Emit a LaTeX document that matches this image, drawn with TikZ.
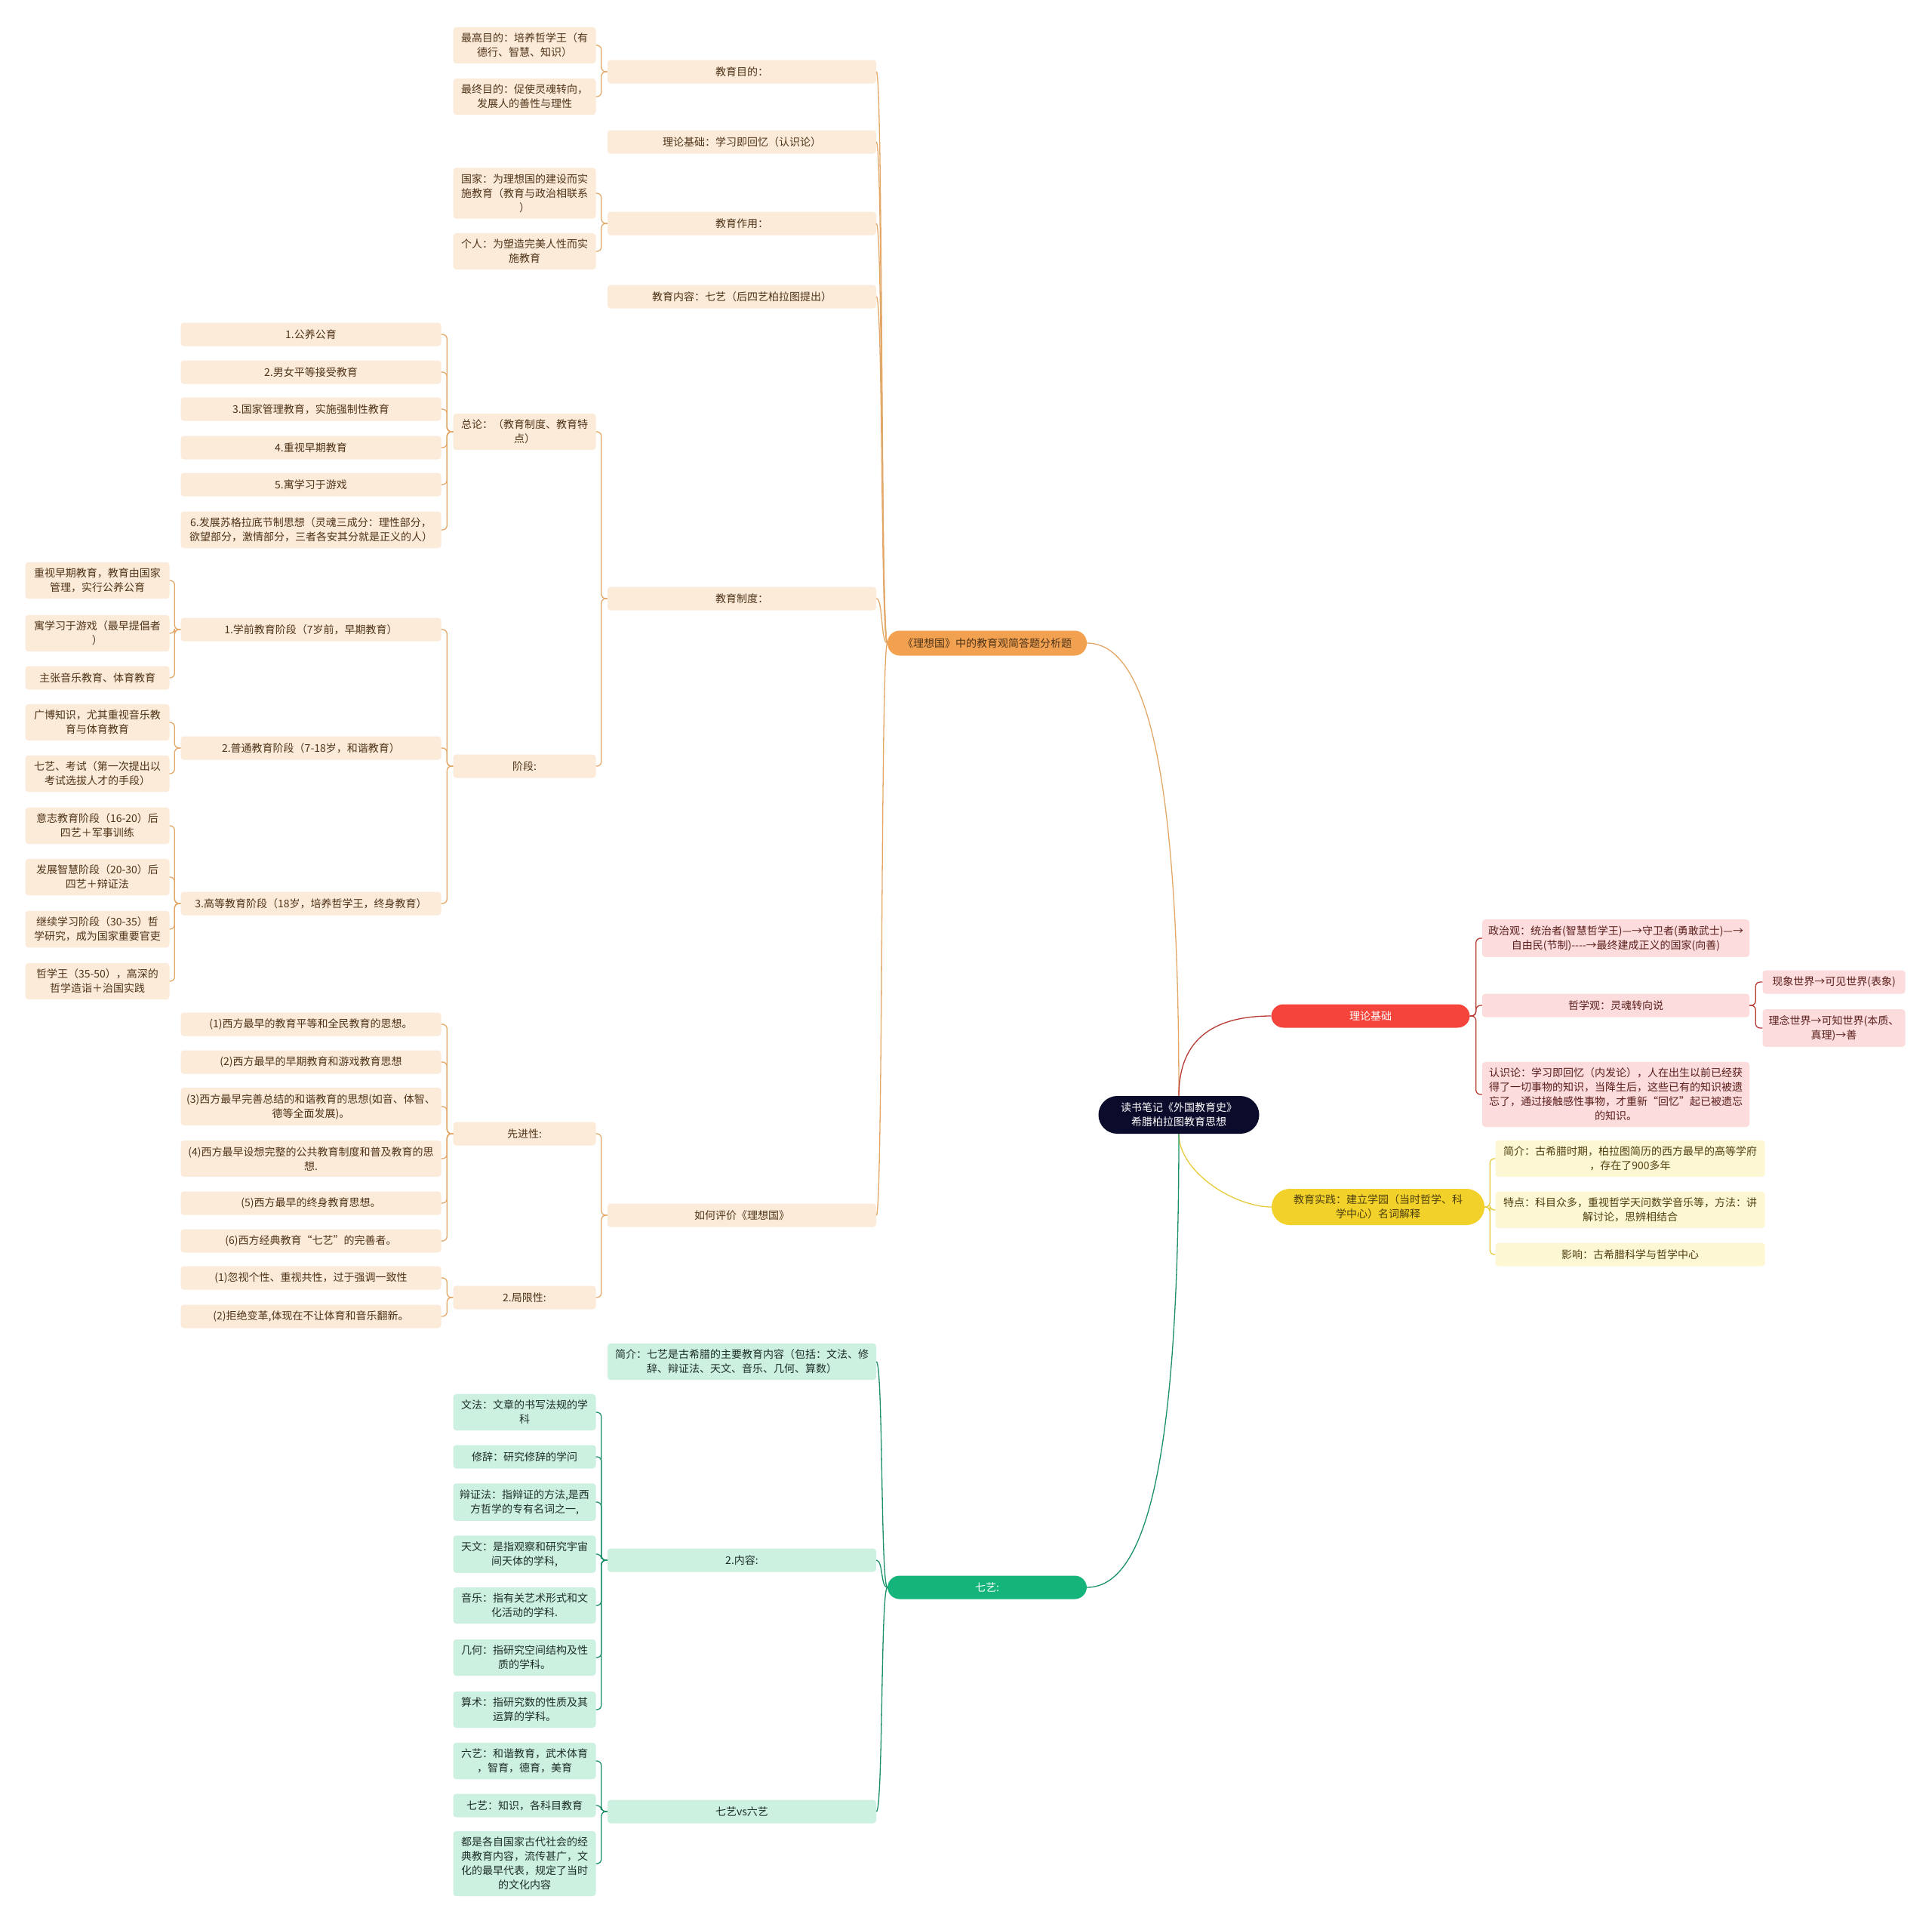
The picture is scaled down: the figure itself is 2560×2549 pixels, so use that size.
\documentclass[tikz,border=0pt]{standalone}
\usepackage{fontspec}
\setmainfont{Noto Sans CJK SC}[Ligatures=TeXOff]
\begin{document}
\begin{tikzpicture}[x=1pt,y=-1pt,
  box/.style={rectangle,rounded corners=4pt,inner xsep=0pt,inner ysep=8pt,minimum height=31pt,align=center,font=\fontsize{14}{19}\selectfont},
  branch/.style={rectangle,rounded corners=16pt,inner sep=0pt,minimum height=32pt,align=center,font=\fontsize{14}{19}\selectfont},
  ideabox/.style={box,fill=idealfill,text=idealtext},
  basisbox/.style={box,fill=basisfill,text=basistext},
  practicebox/.style={box,fill=practicefill,text=practicetext},
  artsbox/.style={box,fill=artsfill,text=artstext},
  col5/.style={text width=191pt},
  col4/.style={text width=345pt},
  col3/.style={text width=189pt},
  col2/.style={text width=356pt},
  ideallink/.style={draw=idealline,line width=1.3pt},
  basislink/.style={draw=basisline,line width=1.3pt},
  practicelink/.style={draw=practiceline,line width=1.3pt},
  artslink/.style={draw=artsline,line width=1.3pt},
  idealbracket/.style={ideallink,rounded corners=6pt},
  basisbracket/.style={basislink,rounded corners=6pt},
  practicebracket/.style={practicelink,rounded corners=6pt},
  artsbracket/.style={artslink,rounded corners=6pt}]
\definecolor{rootnavy}{HTML}{0B0B2B}
\definecolor{idealorange}{HTML}{F2A150}
\definecolor{idealfill}{HTML}{FDEBDA}
\definecolor{idealline}{HTML}{E3A867}
\definecolor{idealtext}{HTML}{4E3418}
\definecolor{basisred}{HTML}{F4443B}
\definecolor{basisfill}{HTML}{FCDCDC}
\definecolor{basisline}{HTML}{B73A32}
\definecolor{basistext}{HTML}{5A1F1C}
\definecolor{practiceyellow}{HTML}{F2D12A}
\definecolor{practicefill}{HTML}{FEF7D3}
\definecolor{practiceline}{HTML}{E6CB3A}
\definecolor{practicetext}{HTML}{4E4010}
\definecolor{artsgreen}{HTML}{14B47A}
\definecolor{artsfill}{HTML}{CDF1E1}
\definecolor{artsline}{HTML}{1A9068}
\definecolor{artstext}{HTML}{1E2E28}
\fill[white] (0,0) rectangle (2560,2549);
\useasboundingbox (0,0) rectangle (2560,2549);
% centre and main branches
\node[branch,fill=rootnavy,text=white,minimum width=213pt,minimum height=50pt,rounded corners=25pt] (root) at (1562,1477) {读书笔记《外国教育史》\\希腊柏拉图教育思想};
\node[branch,fill=idealorange,text=idealtext,minimum width=264pt,minimum height=33pt] (ideal) at (1308,852) {《理想国》中的教育观简答题分析题};
\node[branch,fill=basisred,text=white,minimum width=263pt,minimum height=31pt] (basis) at (1816,1346) {理论基础};
\node[branch,fill=practiceyellow,text=practicetext,minimum width=282pt,minimum height=48pt,rounded corners=24pt] (practice) at (1826,1599) {教育实践：建立学园（当时哲学、科\\学中心）名词解释};
\node[branch,fill=artsgreen,text=white,minimum width=264pt,minimum height=31pt] (arts) at (1308,2103) {七艺:};
\draw[ideallink] (root.north) .. controls +(0,-380) and +(90,0) .. (ideal.east);
\draw[basislink] (root.north) .. controls +(0,-80) and +(-70,0) .. (basis.west);
\draw[practicelink] (root.south) .. controls +(0,50) and +(-50,0) .. (practice.west);
\draw[artslink] (root.south) .. controls +(0,380) and +(90,0) .. (arts.east);
% 理想国
\node[ideabox,col2] (aim) at (983,95) {教育目的：};
\node[ideabox,col2] (theory) at (983,188) {理论基础：学习即回忆（认识论）};
\node[ideabox,col2] (role) at (983,296) {教育作用：};
\node[ideabox,col2] (content) at (983,393) {教育内容：七艺（后四艺柏拉图提出）};
\node[ideabox,col2] (system) at (983,793) {教育制度：};
\node[ideabox,col2] (judge) at (983,1610) {如何评价《理想国》};
\foreach \c in {aim,theory,role,content,system,judge}
  \draw[ideallink] (ideal.west) .. controls +(-9,0) and +(9,0) .. (\c.east);
\node[ideabox,col3] (aimtop) at (695,60) {最高目的：培养哲学王（有\\德行、智慧、知识）};
\node[ideabox,col3] (aimend) at (695,128) {最终目的：促使灵魂转向，\\发展人的善性与理性};
\foreach \c in {aimtop,aimend} \draw[idealbracket] (aim.west) -- ++(-8,0) |- (\c.east);
\node[ideabox,col3] (rolestate) at (695,256) {国家：为理想国的建设而实\\施教育（教育与政治相联系\\）};
\node[ideabox,col3] (roleself) at (695,333) {个人：为塑造完美人性而实\\施教育};
\foreach \c in {rolestate,roleself} \draw[idealbracket] (role.west) -- ++(-8,0) |- (\c.east);
\node[ideabox,col3] (general) at (695,572) {总论：（教育制度、教育特\\点）};
\node[ideabox,col3] (stages) at (695,1015) {阶段:};
\foreach \c in {general,stages} \draw[idealbracket] (system.west) -- ++(-8,0) |- (\c.east);
\node[ideabox,col4] (gen1) at (412,443) {1.公养公育};
\node[ideabox,col4] (gen2) at (412,493) {2.男女平等接受教育};
\node[ideabox,col4] (gen3) at (412,542) {3.国家管理教育，实施强制性教育};
\node[ideabox,col4] (gen4) at (412,593) {4.重视早期教育};
\node[ideabox,col4] (gen5) at (412,642) {5.寓学习于游戏};
\node[ideabox,col4] (gen6) at (412,702) {6.发展苏格拉底节制思想（灵魂三成分：理性部分，\\欲望部分，激情部分，三者各安其分就是正义的人）};
\foreach \c in {gen1,gen2,gen3,gen4,gen5,gen6} \draw[idealbracket] (general.west) -- ++(-8,0) |- (\c.east);
\node[ideabox,col4] (stage1) at (412,834) {1.学前教育阶段（7岁前，早期教育）};
\node[ideabox,col4] (stage2) at (412,991) {2.普通教育阶段（7-18岁，和谐教育）};
\node[ideabox,col4] (stage3) at (412,1197) {3.高等教育阶段（18岁，培养哲学王，终身教育）};
\foreach \c in {stage1,stage2,stage3} \draw[idealbracket] (stages.west) -- ++(-8,0) |- (\c.east);
\node[ideabox,col5] (pre1) at (129,769) {重视早期教育，教育由国家\\管理，实行公养公育};
\node[ideabox,col5] (pre2) at (129,839) {寓学习于游戏（最早提倡者\\）};
\node[ideabox,col5] (pre3) at (129,898) {主张音乐教育、体育教育};
\foreach \c in {pre1,pre2,pre3} \draw[idealbracket] (stage1.west) -- ++(-8,0) |- (\c.east);
\node[ideabox,col5] (com1) at (129,957) {广博知识，尤其重视音乐教\\育与体育教育};
\node[ideabox,col5] (com2) at (129,1025) {七艺、考试（第一次提出以\\考试选拔人才的手段）};
\foreach \c in {com1,com2} \draw[idealbracket] (stage2.west) -- ++(-8,0) |- (\c.east);
\node[ideabox,col5] (high1) at (129,1094) {意志教育阶段（16-20）后\\四艺＋军事训练};
\node[ideabox,col5] (high2) at (129,1162) {发展智慧阶段（20-30）后\\四艺＋辩证法};
\node[ideabox,col5] (high3) at (129,1231) {继续学习阶段（30-35）哲\\学研究，成为国家重要官吏};
\node[ideabox,col5] (high4) at (129,1300) {哲学王（35-50），高深的\\哲学造诣＋治国实践};
\foreach \c in {high1,high2,high3,high4} \draw[idealbracket] (stage3.west) -- ++(-8,0) |- (\c.east);
\node[ideabox,col3] (merit) at (695,1502) {先进性:};
\node[ideabox,col3] (limit) at (695,1719) {2.局限性:};
\foreach \c in {merit,limit} \draw[idealbracket] (judge.west) -- ++(-8,0) |- (\c.east);
\node[ideabox,col4] (merit1) at (412,1357) {(1)西方最早的教育平等和全民教育的思想。};
\node[ideabox,col4] (merit2) at (412,1407) {(2)西方最早的早期教育和游戏教育思想};
\node[ideabox,col4] (merit3) at (412,1466) {(3)西方最早完善总结的和谐教育的思想(如音、体智、\\德等全面发展)。};
\node[ideabox,col4] (merit4) at (412,1535) {(4)西方最早设想完整的公共教育制度和普及教育的思\\想.};
\node[ideabox,col4] (merit5) at (412,1594) {(5)西方最早的终身教育思想。};
\node[ideabox,col4] (merit6) at (412,1644) {(6)西方经典教育“七艺”的完善者。};
\foreach \c in {merit1,merit2,merit3,merit4,merit5,merit6} \draw[idealbracket] (merit.west) -- ++(-8,0) |- (\c.east);
\node[ideabox,col4] (limit1) at (412,1693) {(1)忽视个性、重视共性，过于强调一致性};
\node[ideabox,col4] (limit2) at (412,1744) {(2)拒绝变革,体现在不让体育和音乐翻新。};
\foreach \c in {limit1,limit2} \draw[idealbracket] (limit.west) -- ++(-8,0) |- (\c.east);
% 理论基础
\node[basisbox,text width=354pt] (politics) at (2141,1243) {政治观：统治者(智慧哲学王)—→守卫者(勇敢武士)—→\\自由民(节制)----→最终建成正义的国家(向善)};
\node[basisbox,text width=354pt] (philosophy) at (2141,1332) {哲学观：灵魂转向说};
\node[basisbox,text width=354pt] (epistem) at (2141,1450) {认识论：学习即回忆（内发论），人在出生以前已经获\\得了一切事物的知识，当降生后，这些已有的知识被遗\\忘了，通过接触感性事物，才重新“回忆”起已被遗忘\\的知识。};
\foreach \c in {politics,philosophy,epistem} \draw[basisbracket] (basis.east) -- ++(8,0) |- (\c.west);
\node[basisbox,text width=189pt] (phenom) at (2430,1301) {现象世界→可见世界(表象)};
\node[basisbox,text width=189pt] (ideaworld) at (2430,1362) {理念世界→可知世界(本质、\\真理)→善};
\foreach \c in {phenom,ideaworld} \draw[basisbracket] (philosophy.east) -- ++(8,0) |- (\c.west);
% 教育实践
\node[practicebox,text width=357pt] (academy) at (2160,1535) {简介：古希腊时期，柏拉图简历的西方最早的高等学府\\，存在了900多年};
\node[practicebox,text width=357pt] (feature) at (2160,1603) {特点：科目众多，重视哲学天问数学音乐等，方法：讲\\解讨论，思辨相结合};
\node[practicebox,text width=357pt] (impact) at (2160,1662) {影响：古希腊科学与哲学中心};
\foreach \c in {academy,feature,impact} \draw[practicebracket] (practice.east) -- ++(7,0) |- (\c.west);
% 七艺
\node[artsbox,col2] (artsintro) at (983,1804) {简介：七艺是古希腊的主要教育内容（包括：文法、修\\辞、辩证法、天文、音乐、几何、算数）};
\node[artsbox,col2] (artscontent) at (983,2067) {2.内容:};
\node[artsbox,col2] (artsvs) at (983,2400) {七艺vs六艺};
\foreach \c in {artsintro,artscontent,artsvs}
  \draw[artslink] (arts.west) .. controls +(-9,0) and +(9,0) .. (\c.east);
\node[artsbox,col3] (grammar) at (695,1871) {文法：文章的书写法规的学\\科};
\node[artsbox,col3] (rhetoric) at (695,1930) {修辞：研究修辞的学问};
\node[artsbox,col3] (dialectic) at (695,1990) {辩证法：指辩证的方法,是西\\方哲学的专有名词之一,};
\node[artsbox,col3] (astronomy) at (695,2059) {天文：是指观察和研究宇宙\\间天体的学科,};
\node[artsbox,col3] (music) at (695,2127) {音乐：指有关艺术形式和文\\化活动的学科.};
\node[artsbox,col3] (geometry) at (695,2196) {几何：指研究空间结构及性\\质的学科。};
\node[artsbox,col3] (arithmetic) at (695,2265) {算术：指研究数的性质及其\\运算的学科。};
\foreach \c in {grammar,rhetoric,dialectic,astronomy,music,geometry,arithmetic} \draw[artsbracket] (artscontent.west) -- ++(-8,0) |- (\c.east);
\node[artsbox,col3] (sixarts) at (695,2333) {六艺：和谐教育，武术体育\\，智育，德育，美育};
\node[artsbox,col3] (sevenarts) at (695,2392) {七艺：知识，各科目教育};
\node[artsbox,col3] (botharts) at (695,2469) {都是各自国家古代社会的经\\典教育内容，流传甚广，文\\化的最早代表，规定了当时\\的文化内容};
\foreach \c in {sixarts,sevenarts,botharts} \draw[artsbracket] (artsvs.west) -- ++(-8,0) |- (\c.east);
\end{tikzpicture}
\end{document}
